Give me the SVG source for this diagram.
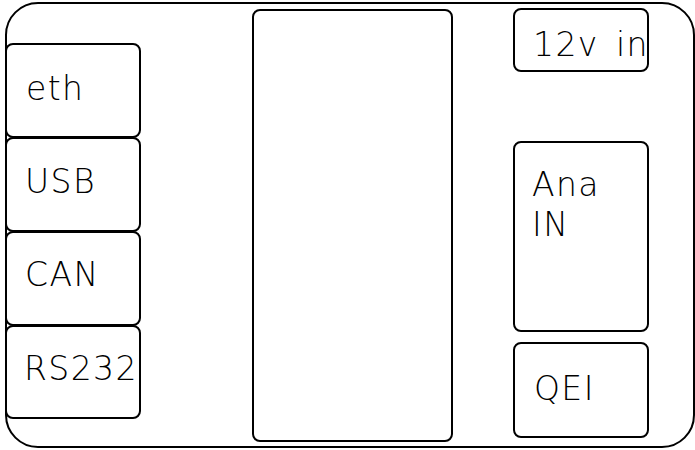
<svg xmlns="http://www.w3.org/2000/svg" width="695" height="450" viewBox="0 0 695 450">
<style>
.box{fill:#fff;stroke:#000;stroke-width:2}
.lbl{font-family:"DejaVu Sans","Liberation Sans",sans-serif;font-weight:200;font-size:33px;letter-spacing:1.4px;fill:#000}
</style>
<rect x="0" y="0" width="695" height="450" fill="#fff"/>
<g id="board"><rect x="6" y="3" width="688" height="444" rx="32" ry="32" fill="none" stroke="#000" stroke-width="2"/></g>
<g id="eth"><rect class="box" x="6" y="44" width="134" height="93" rx="7"/><text class="lbl" x="26" y="100">eth</text></g>
<g id="usb"><rect class="box" x="6" y="138" width="134" height="93" rx="7"/><text class="lbl" x="25" y="193">USB</text></g>
<g id="can"><rect class="box" x="6" y="232" width="134" height="93" rx="7"/><text class="lbl" x="25" y="286">CAN</text></g>
<g id="rs232"><rect class="box" x="6" y="326" width="134" height="92" rx="7"/><text class="lbl" x="24" y="380">RS232</text></g>
<g id="mcu"><rect class="box" x="253" y="10" width="199" height="431" rx="7"/></g>
<g id="power"><rect class="box" x="514" y="9" width="134" height="62" rx="7"/><text class="lbl" y="56"><tspan x="533">12v</tspan><tspan x="616">in</tspan></text></g>
<g id="ana"><rect class="box" x="514" y="142" width="134" height="189" rx="7"/><text class="lbl" x="532" y="196">Ana</text><text class="lbl" x="532" y="236">IN</text></g>
<g id="qei"><rect class="box" x="514" y="343" width="134" height="94" rx="7"/><text class="lbl" x="534" y="400">QEI</text></g>
<g id="connectors"></g>
</svg>
